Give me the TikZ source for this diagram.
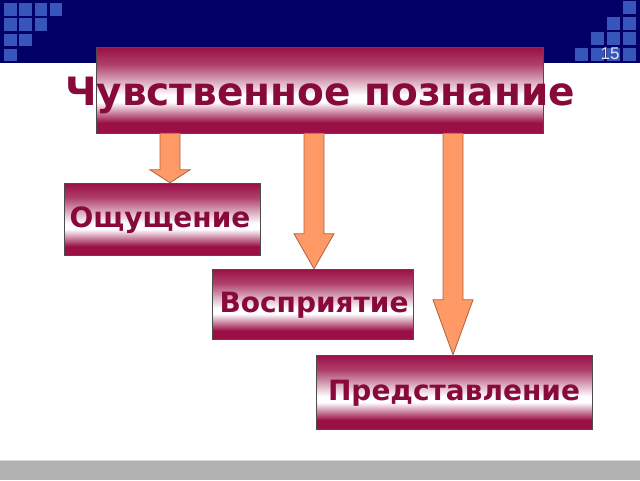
\documentclass[tikz,border=0pt]{standalone}
\usepackage{fontspec}
\setmainfont{DejaVu Sans}
\newfontfamily\numfont{Liberation Sans}
\usetikzlibrary{calc}

\definecolor{navy}{HTML}{000066}
\definecolor{tile}{HTML}{3656BC}
\definecolor{boxred}{HTML}{9A0F45}
\definecolor{textred}{HTML}{870A3A}
\definecolor{arrowfill}{HTML}{FF9966}
\definecolor{arrowedge}{HTML}{A8643F}
\definecolor{footgray}{HTML}{B2B2B2}

% the box spans 25bp..75bp of the shading
\pgfdeclareverticalshading{boxshade}{100bp}{color(0bp)=(boxred); color(25bp)=(boxred); color(31bp)=(boxred); color(43bp)=(white); color(47bp)=(white); color(65bp)=(boxred!80!white); color(75bp)=(boxred); color(100bp)=(boxred)}

% block arrow from one box down to another: x, from, to, head length
\newcommand{\blockarrow}[4]{%
  \filldraw[barrow] let \p1=(#2.south), \p2=(#3.north) in
    (#1pt-10pt,\y1) -- (#1pt-10pt,\y2+#4pt) -- (#1pt-20pt,\y2+#4pt)
    -- (#1pt,\y2) -- (#1pt+20pt,\y2+#4pt) -- (#1pt+10pt,\y2+#4pt)
    -- (#1pt+10pt,\y1) -- cycle;}

\begin{document}
\begin{tikzpicture}[
    x=1pt, y=-1pt,
    redbox/.style={rectangle, draw=black!70, shading=boxshade, inner sep=0pt},
    boxtext/.style={font=\bfseries\fontsize{28}{32}\selectfont, text=textred, inner sep=0pt},
    barrow/.style={fill=arrowfill, draw=arrowedge, line width=0.8pt, line join=miter},
    tilebox/.style={fill=tile, draw=none}
]
\useasboundingbox (0,0) rectangle (640,480);

% Background
\fill[navy] (0,0) rectangle (640,63);
\fill[footgray] (0,460) rectangle (640,480);
\draw[white!85!black, line width=1pt] (0,460) -- (640,460);
\foreach \r in {0,...,3} {
  \pgfmathtruncatemacro{\n}{3-\r}
  \foreach \c in {0,...,\n}
    \fill[tilebox] (4+15.3*\c,3+15.3*\r) rectangle ++(12.5,12.5);
  \foreach \c in {0,...,\r}
    \fill[tilebox] (623-16*\c,1+15.7*\r) rectangle ++(13,13);
}
\node[font=\numfont\fontsize{17}{19}\selectfont, text=white!85!tile] (pagenum) at (610,54) {15};

% Nodes
\node[redbox, minimum width=447, minimum height=86] (title) at (319.5,90) {};
\node[font=\bfseries\fontsize{39}{44}\selectfont, text=textred, inner sep=0pt] (titlelbl) at (320,95) {Чувственное познание};
\node[redbox, minimum width=196, minimum height=72] (sens) at (162,219) {};
\node[boxtext] (senslbl) at (160,220) {Ощущение};
\node[redbox, minimum width=201, minimum height=70] (perc) at (312.5,304) {};
\node[boxtext] (perclbl) at (314,305) {Восприятие};
\node[redbox, minimum width=276, minimum height=74] (repr) at (454,392) {};
\node[boxtext] (reprlbl) at (454,393) {Представление};

% Arrows
\blockarrow{170}{title}{sens}{13}
\blockarrow{314}{title}{perc}{35}
\blockarrow{453}{title}{repr}{55}

\end{tikzpicture}
\end{document}
